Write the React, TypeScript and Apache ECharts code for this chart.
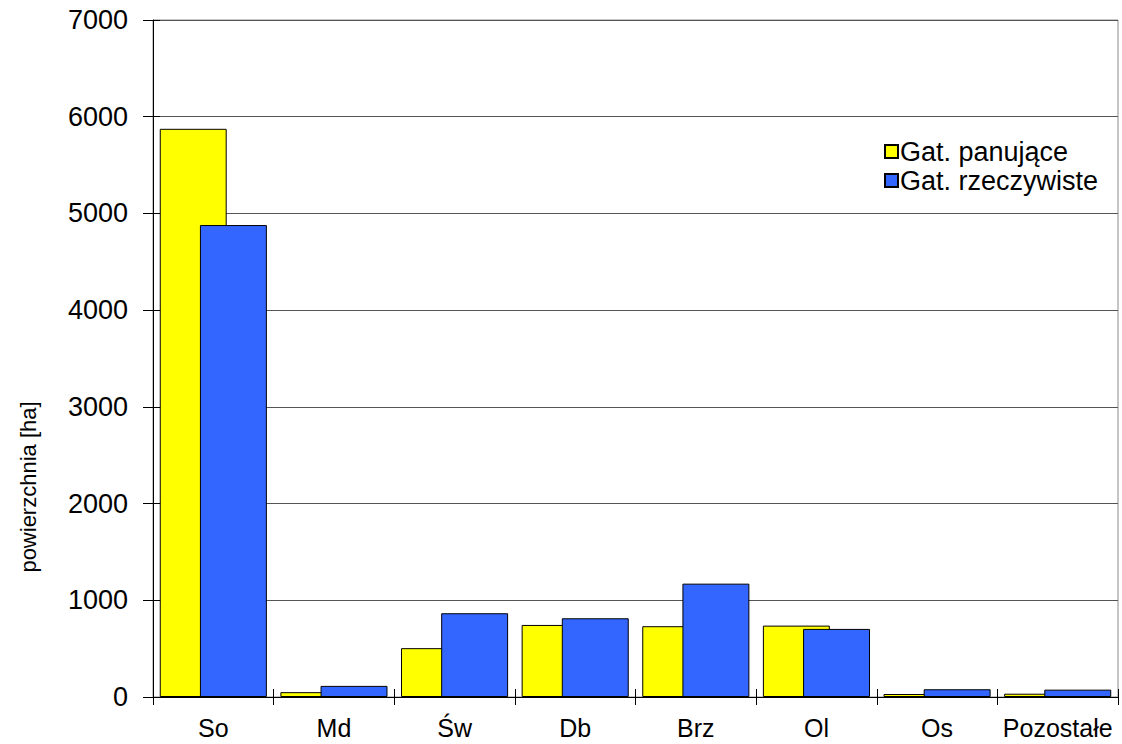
import React, { useEffect, useRef } from "react";
import * as echarts from "echarts";

const categories = ["So", "Md", "Św", "Db", "Brz", "Ol", "Os", "Pozostałe"];
const panujace = [5875, 50, 505, 745, 732, 738, 31, 34];
const rzeczywiste = [4880, 115, 866, 814, 1172, 704, 80, 76];
const seriesNames = ["Gat. panujące", "Gat. rzeczywiste"];
const yTicks = { min: 0, max: 7000, interval: 1000 };
const yAxisTitle = "powierzchnia [ha]";

const FONT = "'Liberation Sans', Arial, sans-serif";

export default function App() {
  const ref = useRef<HTMLDivElement>(null);
  useEffect(() => {
    if (!ref.current) return;
    const chart = echarts.init(ref.current, undefined, { renderer: "svg" });
    chart.setOption({
      animation: false,
      backgroundColor: "#ffffff",
      textStyle: { fontFamily: FONT },
      grid: {
        left: 153,
        right: 4,
        top: 20,
        bottom: 47,
        show: true,
        borderColor: "#8c8c8c",
        borderWidth: 1,
        containLabel: false,
      },
      legend: {
        orient: "vertical",
        left: 879,
        top: 133,
        itemWidth: 13,
        itemHeight: 13,
        itemGap: 2,
        icon: "rect",
        data: seriesNames,
        textStyle: { fontFamily: FONT, fontSize: 27, color: "#000", padding: [0, 0, 0, -3] },
      },
      xAxis: [
        {
          type: "category",
          data: categories,
          position: "bottom",
          axisLine: { show: true, lineStyle: { color: "#000", width: 1 } },
          axisTick: { show: true, interval: 0, inside: false, length: 8, lineStyle: { color: "#000" } },
          axisLabel: { interval: 0, fontFamily: FONT, fontSize: 25, color: "#000", margin: 18 },
          splitLine: { show: false },
        },
        {
          type: "category",
          data: categories,
          position: "bottom",
          axisLine: { show: false },
          axisTick: { show: true, interval: 0, inside: true, length: 8, lineStyle: { color: "#000" } },
          axisLabel: { show: false, interval: 0 },
          splitLine: { show: false },
        },
      ],
      yAxis: [
        {
          type: "value",
          position: "left",
          min: yTicks.min,
          max: yTicks.max,
          interval: yTicks.interval,
          axisLine: { show: true, lineStyle: { color: "#000", width: 1 } },
          axisTick: { show: true, inside: false, length: 10, lineStyle: { color: "#000" } },
          axisLabel: {
            fontFamily: FONT,
            fontSize: 27,
            color: "#000",
            margin: 25,
            formatter: (v: number) => String(v),
          },
          splitLine: { show: true, lineStyle: { color: "#555", width: 1 } },
        },
        {
          type: "value",
          position: "left",
          min: yTicks.min,
          max: yTicks.max,
          interval: yTicks.interval,
          axisLine: { show: false },
          axisTick: { show: true, inside: true, length: 7, lineStyle: { color: "#000" } },
          axisLabel: { show: false },
          splitLine: { show: false },
        },
      ],
      series: [
        {
          name: seriesNames[0],
          type: "bar",
          data: panujace,
          barWidth: "55.5%",
          barGap: "-40%",
          itemStyle: { color: "#ffff00", borderColor: "#000", borderWidth: 1 },
        },
        {
          name: seriesNames[1],
          type: "bar",
          data: rzeczywiste,
          barWidth: "55.5%",
          barGap: "-40%",
          itemStyle: { color: "#3366ff", borderColor: "#000", borderWidth: 1 },
        },
      ],
      graphic: [
        {
          type: "text",
          x: 28,
          y: 487,
          rotation: Math.PI / 2,
          style: {
            text: yAxisTitle,
            fontFamily: FONT,
            fontSize: 22,
            fill: "#000",
            align: "center",
            verticalAlign: "middle",
          },
        },
      ],
    });
    return () => chart.dispose();
  }, []);
  return (
    <div
      ref={ref}
      style={{ position: "fixed", left: 0, top: 0, width: 1122, height: 744, background: "#fff" }}
    />
  );
}
